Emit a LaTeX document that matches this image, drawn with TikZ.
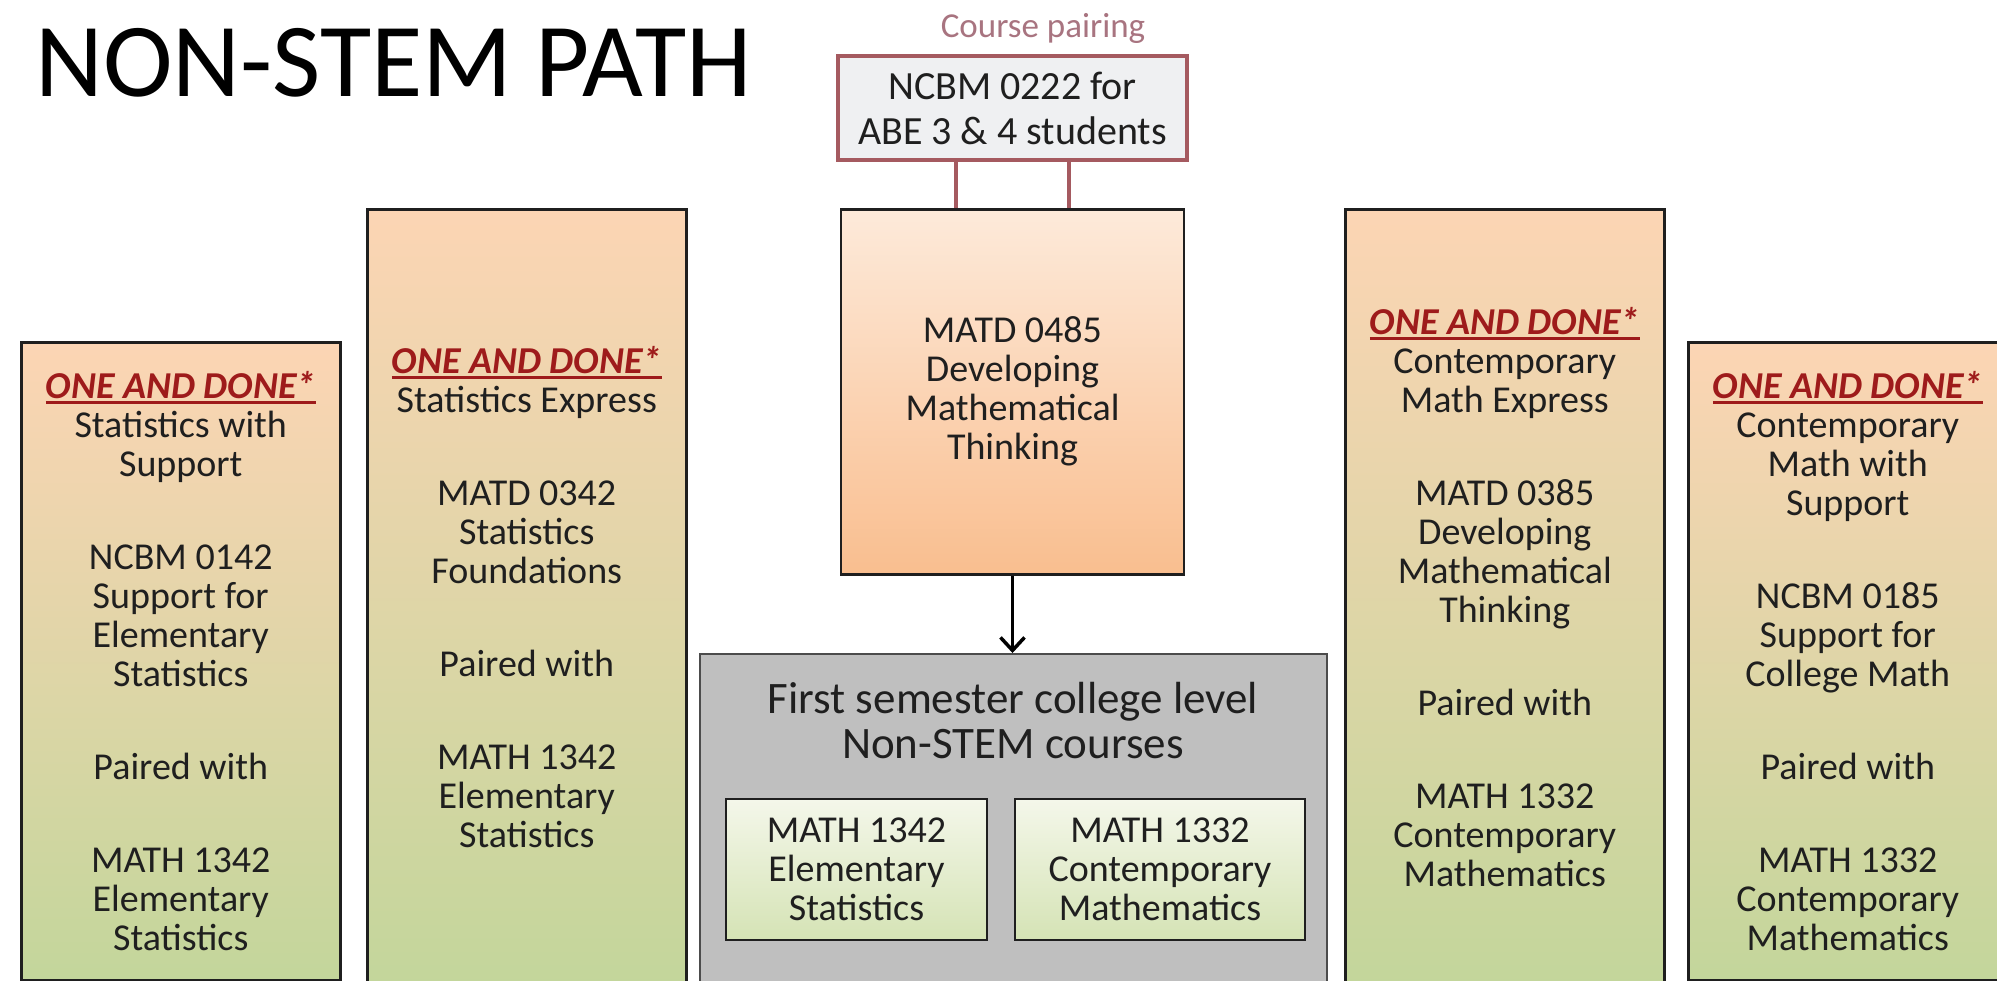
\documentclass[tikz,border=0pt]{standalone}
\usepackage{fontspec}
\setmainfont{Carlito}
\usetikzlibrary{arrows.meta,calc,positioning}

\definecolor{peach}{HTML}{FCD5B4}
\definecolor{olive}{HTML}{C3D69B}
\definecolor{devtop}{HTML}{FDEADA}
\definecolor{devbot}{HTML}{F9BE8F}
\definecolor{coltop}{HTML}{F4F7EA}
\definecolor{colbot}{HTML}{D5E3B5}
\definecolor{graybg}{HTML}{BFBFBF}
\definecolor{pairred}{HTML}{A55A60}
\definecolor{pairfill}{HTML}{EFF0F2}
\definecolor{mauve}{HTML}{A87480}
\definecolor{oadred}{HTML}{9E1B1B}
\definecolor{textdark}{HTML}{1F1F1F}

\newcommand{\oneanddone}{{\color{oadred}\bfseries\itshape\setbox0\hbox{ONE AND DONE*}%
  \rlap{\rule[-5pt]{\wd0}{2.5pt}}\box0}}
\newcommand{\bodyfont}{\fontsize{38}{39}\selectfont}
\newcommand{\pgap}{\\[54pt]}

\tikzset{
  track/.style={draw=textdark, line width=2.5pt, top color=peach, bottom color=olive,
    align=center, font=\bodyfont, text=textdark, minimum width=319pt, inner sep=0pt},
  devbox/.style={draw=textdark, line width=2.5pt, top color=devtop, bottom color=devbot,
    align=center, font=\bodyfont, text=textdark, inner sep=0pt},
  pairbox/.style={draw=pairred, line width=4pt, fill=pairfill, align=center,
    font=\fontsize{40}{45}\selectfont, text=textdark, inner sep=0pt},
  colbox/.style={draw=textdark!80, line width=2pt, fill=graybg, inner sep=0pt},
  coursebox/.style={draw=textdark, line width=2pt, top color=coltop, bottom color=colbot,
    align=center, font=\bodyfont, text=textdark, inner sep=0pt},
  pairline/.style={draw=pairred, line width=3.5pt},
  flow/.style={draw=black, line width=3.5pt, -{Straight Barb[length=13pt,width=24pt,line width=3.5pt]}}
}

\begin{document}
\begin{tikzpicture}[x=1pt,y=-1pt]
  \useasboundingbox (0,0) rectangle (1997,980);
  \clip (0,0) rectangle (1997,980);

  % heading
  \node[font=\fontsize{105}{110}\selectfont, anchor=base west, inner sep=0pt] (title) at (35,96) {NON-STEM PATH};

  % course pairing on top of the middle column
  \node[font=\fontsize{35}{40}\selectfont, text=mauve, inner sep=0pt] (pairlbl) at (1043,28) {Course pairing};
  \node[pairbox, minimum width=349pt, minimum height=104pt] (pair) at (1012.5,108) {NCBM 0222 for\\ ABE 3 \& 4 students};
  \node[devbox, minimum width=343pt, minimum height=365pt, anchor=north] (dev) at (1012.5,208)
    {MATD 0485\\ Developing\\ Mathematical\\ Thinking};

  \coordinate (pl) at ($(pair.south west)!0.34!(pair.south east)$);
  \coordinate (pr) at ($(pair.south west)!0.66!(pair.south east)$);
  \draw[pairline] (pl) -- (pl |- dev.north);
  \draw[pairline] (pr) -- (pr |- dev.north);

  % college level courses
  \node[colbox, minimum width=627pt, minimum height=340pt, anchor=north] (college) at (1013,653) {};
  \node[font=\fontsize{45}{45}\selectfont, text=textdark, align=center, inner sep=0pt] (coltitle) at (1013,721)
    {First semester college level\\ Non-STEM courses};
  \node[coursebox, minimum width=261pt, minimum height=141pt] (m1342) at (856.5,869.5)
    {MATH 1342\\ Elementary\\ Statistics};
  \node[coursebox, minimum width=290pt, minimum height=141pt] (m1332) at (1160,869.5)
    {MATH 1332\\ Contemporary\\ Mathematics};
  \draw[flow] (dev.south) -- (dev.south |- college.north);

  % one and done columns
  \node[track, minimum height=638pt, anchor=north west] (sws) at (20,341)
    {\oneanddone\\ Statistics with\\ Support\pgap NCBM 0142\\ Support for\\ Elementary\\ Statistics\pgap
     Paired with\pgap MATH 1342\\ Elementary\\ Statistics};
  \node[track, minimum height=776pt, anchor=north west] (sexp) at (366,208)
    {\oneanddone\\ Statistics Express\pgap MATD 0342\\ Statistics\\ Foundations\pgap
     Paired with\pgap MATH 1342\\ Elementary\\ Statistics};
  \node[track, minimum height=776pt, anchor=north west] (cexp) at (1344,208)
    {\oneanddone\\ Contemporary\\ Math Express\pgap MATD 0385\\ Developing\\ Mathematical\\ Thinking\pgap
     Paired with\pgap MATH 1332\\ Contemporary\\ Mathematics};
  \node[track, minimum height=638pt, anchor=north west] (cws) at (1687,341)
    {\oneanddone\\ Contemporary\\ Math with\\ Support\pgap NCBM 0185\\ Support for\\ College Math\pgap
     Paired with\pgap MATH 1332\\ Contemporary\\ Mathematics};
\end{tikzpicture}
\end{document}
